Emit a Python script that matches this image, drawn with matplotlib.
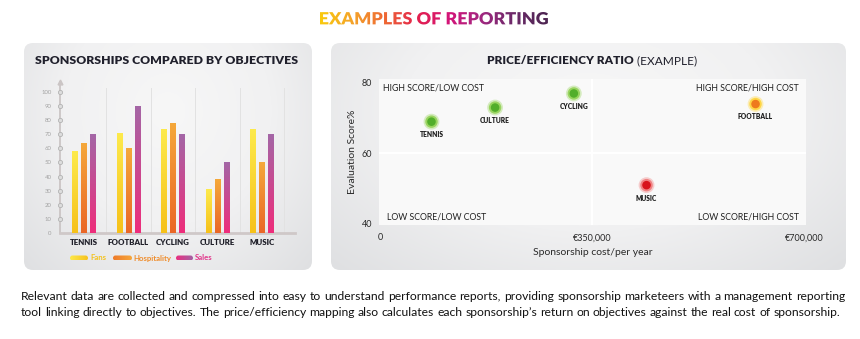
import numpy as np
import matplotlib
matplotlib.use('Agg')
import matplotlib.pyplot as plt
from matplotlib.patches import FancyBboxPatch, PathPatch
from matplotlib.textpath import TextPath
from matplotlib.font_manager import FontProperties
from matplotlib.colors import LinearSegmentedColormap
from matplotlib.transforms import Affine2D

plt.rcParams['font.family'] = ['Lato', 'DejaVu Sans']

# bar chart data
sports = ['TENNIS', 'FOOTBALL', 'CYCLING', 'CULTURE', 'MUSIC']
fans = [58, 71, 74, 31, 74]
hospitality = [64, 60, 78, 38, 50]
sales = [70, 90, 70, 50, 70]
series_names = ['Fans', 'Hospitality', 'Sales']

# price / efficiency data
ratio_names = ['TENNIS', 'CULTURE', 'CYCLING', 'FOOTBALL', 'MUSIC']
cost = [85000, 190000, 320000, 620000, 440000]
score = [69, 73, 77, 74, 51]
rating = ['good', 'good', 'good', 'mid', 'bad']

cost_ticks = [0, 350000, 700000]
cost_labels = ['0', '€350,000', '€700,000']
score_ticks = [40, 60, 80]

paragraph = [
    'Relevant data are collected and compressed into easy to understand performance reports, providing sponsorship marketeers with a management reporting',
    'tool linking directly to objectives. The price/efficiency mapping also calculates each sponsorship’s return on objectives against the real cost of sponsorship.',
]

W, H = 860, 339
fig = plt.figure(figsize=(W / 100, H / 100), dpi=100)
fig.patch.set_facecolor('white')
bg = fig.add_axes([0, 0, 1, 1])
bg.set_xlim(0, W)
bg.set_ylim(H, 0)
bg.axis('off')


def px_rect(l, t, r, b):
    return [l / W, 1 - b / H, (r - l) / W, (b - t) / H]


def fill_grad(ax, extent, colors, clip, vertical=True, z=2):
    cm = LinearSegmentedColormap.from_list('g', colors)
    g = np.linspace(0, 1, 64)
    arr = g[:, None] if vertical else g[None, :]
    im = ax.imshow(arr, cmap=cm, extent=extent, aspect='auto',
                   interpolation='bilinear', zorder=z)
    im.set_clip_path(clip)
    return im


def panel(l, t, r, b):
    p = FancyBboxPatch((l, t), r - l, b - t, boxstyle='round,pad=0,rounding_size=9',
                       fc='none', ec='none', transform=bg.transData)
    bg.add_patch(p)
    yy, xx = np.mgrid[0:1:120j, 0:1:200j]
    d = np.sqrt(((xx - 0.5) / 0.5) ** 2 + ((yy - 0.3) / 0.7) ** 2)
    cm = LinearSegmentedColormap.from_list('p', ['#f7f7f7', '#f1f1f2', '#dedfe1'])
    im = bg.imshow(np.clip(d / 1.45, 0, 1), cmap=cm, vmin=0, vmax=1,
                   extent=(l, r, b, t), aspect='auto', interpolation='bilinear', zorder=1)
    im.set_clip_path(p)


panel(24, 43, 312, 270)
panel(331, 43, 846, 270)

# main title with gradient letters
fp = FontProperties(family='Lato', weight='heavy')
tp = TextPath((0, 0), 'EXAMPLES OF REPORTING', size=20, prop=fp)
ext = tp.get_extents()
sx = 228 / ext.width
sy = 12.5 / ext.height
tr = Affine2D().translate(-ext.x0, -ext.y0).scale(sx, -sy).translate(320, 24.5)
tpatch = PathPatch(tr.transform_path(tp), fc='none', ec='none', transform=bg.transData)
bg.add_patch(tpatch)
fill_grad(bg, (320, 548, 25, 11),
          ['#f9c80e', '#f4a12a', '#ee6534', '#e3204f', '#d3157a', '#a02780', '#6c2a69', '#4e2552'],
          tpatch, vertical=False, z=3)

# panel titles
bg.text(167, 60, 'SPONSORSHIPS COMPARED BY OBJECTIVES', ha='center', va='center',
        fontsize=8.8, weight='heavy', color='#20202c', zorder=5)
bg.text(634, 61, 'PRICE/EFFICIENCY RATIO', ha='right', va='center',
        fontsize=8.6, weight='heavy', color='#20202c', zorder=5)
bg.text(634, 61, ' (EXAMPLE)', ha='left', va='center',
        fontsize=8.6, color='#20202c', zorder=5)

# ---- left: grouped bars ----
ax1 = fig.add_axes(px_rect(60, 82, 295, 233))
ax1.set_facecolor('none')
x = np.arange(len(sports))
off, bw = 0.202, 0.125
grads = [['#fdea4c', '#f6c11a'], ['#f5a83a', '#ea6727'], ['#a466a6', '#ee2d7b']]
for k, vals in enumerate([fans, hospitality, sales]):
    bars = ax1.bar(x + (k - 1) * off, vals, bw, color='none', zorder=3)
    for rect in bars:
        x0 = rect.get_x()
        fill_grad(ax1, (x0, x0 + rect.get_width(), 0, rect.get_height()), grads[k], rect, z=3)

x_lo, x_hi = -0.539, 4.742
for s in x + 0.5:
    ax1.plot([s, s], [0, 103], color='#e2e2e2', lw=0.7, zorder=1)
ax1.set_xlim(x_lo, x_hi)
ax1.set_ylim(0, 107)
for side in ['top', 'right']:
    ax1.spines[side].set_visible(False)
ax1.spines['left'].set_color('#cbc5c5')
ax1.spines['left'].set_linewidth(1.3)
ax1.spines['bottom'].set_color('#cfc8c8')
ax1.spines['bottom'].set_linewidth(2)
ax1.set_yticks(range(0, 101, 10))
ax1.set_xticks(x, sports)
ax1.tick_params(axis='y', length=0, labelsize=4.3, labelcolor='#a3a3a3', pad=6)
ax1.tick_params(axis='x', length=0, labelsize=5.7, labelcolor='#20202a', pad=4.5)
for lab in ax1.get_xticklabels():
    lab.set_fontweight('heavy')
ax1.plot(np.full(10, x_lo), range(10, 101, 10), 'o', ms=3, mfc='#dddddd', mec='#b3b3b3',
         mew=0.6, clip_on=False, zorder=4)
ax1.plot([x_lo], [107], marker='^', ms=3.5, color='#cbc5c5', clip_on=False, zorder=4)

# legend
leg_pos = [(70, 88, 90), (113, 132, 133.5), (176, 193, 195)]
leg_sw = [['#fde84a', '#f6c21e'], ['#ee7a2a', '#f6a63a'], ['#ea2f80', '#a461a4']]
leg_txt = ['#f4c21c', '#ef8c2b', '#e2348a']
for name, (a, b, tx), sw, tc in zip(series_names, leg_pos, leg_sw, leg_txt):
    sp = FancyBboxPatch((a, 255.5), b - a, 5, boxstyle='round,pad=0,rounding_size=2.5',
                        fc='none', ec='none', transform=bg.transData)
    bg.add_patch(sp)
    fill_grad(bg, (a, b, 260.5, 255.5), sw, sp, vertical=False, z=3)
    bg.text(tx, 258, name, ha='left', va='center', fontsize=5.6, weight='bold', color=tc, zorder=5)

# ---- right: price/efficiency ----
ax2 = fig.add_axes(px_rect(379, 79, 806, 225))
ax2.set_facecolor('#f9f9f9')
for s in ax2.spines.values():
    s.set_visible(False)
ax2.axvline(350000, color='white', lw=1.6, zorder=1)
ax2.axhline(60, color='white', lw=1.6, zorder=1)
halo = {'good': '#93d255', 'mid': '#ffd43a', 'bad': '#f07a7a'}
core = {'good': '#52ae2a', 'mid': '#ee7a1d', 'bad': '#d8141c'}
hc = [halo[r] for r in rating]
cc = [core[r] for r in rating]
ax2.scatter(cost, score, s=130, c=hc, alpha=0.35, lw=0, zorder=3)
ax2.scatter(cost, score, s=80, c=hc, alpha=0.9, lw=0, zorder=3)
ax2.scatter(cost, score, s=38, c=cc, lw=0, zorder=4)
for name, cx, cy in zip(ratio_names, cost, score):
    ax2.annotate(name, (cx, cy), xytext=(0, -9.3), textcoords='offset points',
                 ha='center', va='center', fontsize=4.8, weight='heavy', color='#1d1d1d', zorder=5)

qkw = dict(transform=ax2.transAxes, fontsize=6.3, color='#1f1f1f', va='center')
ax2.text(0.01, 0.938, 'HIGH SCORE/LOW COST', ha='left', **qkw)
ax2.text(0.984, 0.938, 'HIGH SCORE/HIGH COST', ha='right', **qkw)
ax2.text(0.019, 0.055, 'LOW SCORE/LOW COST', ha='left', **qkw)
ax2.text(0.984, 0.055, 'LOW SCORE/HIGH COST', ha='right', **qkw)

ax2.set_xlim(-1650, 703300)
ax2.set_ylim(39.7, 81.1)
ax2.set_xticks(cost_ticks, cost_labels)
ax2.set_yticks(score_ticks)
ax2.tick_params(length=0, labelsize=6.5, labelcolor='#2a2a2a')
ax2.tick_params(axis='x', pad=6)
ax2.tick_params(axis='y', pad=5)
ax2.set_xlabel('Sponsorship cost/per year', fontsize=7.5, color='#2a2a2a', labelpad=4)
ax2.set_ylabel('Evaluation Score%', fontsize=7.5, color='#2a2a2a', labelpad=3)

# ---- bottom paragraph, justified ----
renderer = fig.canvas.get_renderer()
fs = 8.7
for line, y, right in zip(paragraph, [296, 312], [845, 840]):
    words = line.split(' ')
    widths = []
    for w in words:
        t = bg.text(0, 0, w, fontsize=fs)
        widths.append(t.get_window_extent(renderer).width)
        t.remove()
    gap = (right - 21 - sum(widths)) / (len(words) - 1)
    xp = 21
    for w, wd in zip(words, widths):
        bg.text(xp, y, w, fontsize=fs, color='#111111', ha='left', va='center', zorder=5)
        xp += wd + gap

bg.set_xlim(0, W)
bg.set_ylim(H, 0)
fig.savefig('out.png', dpi=100)
